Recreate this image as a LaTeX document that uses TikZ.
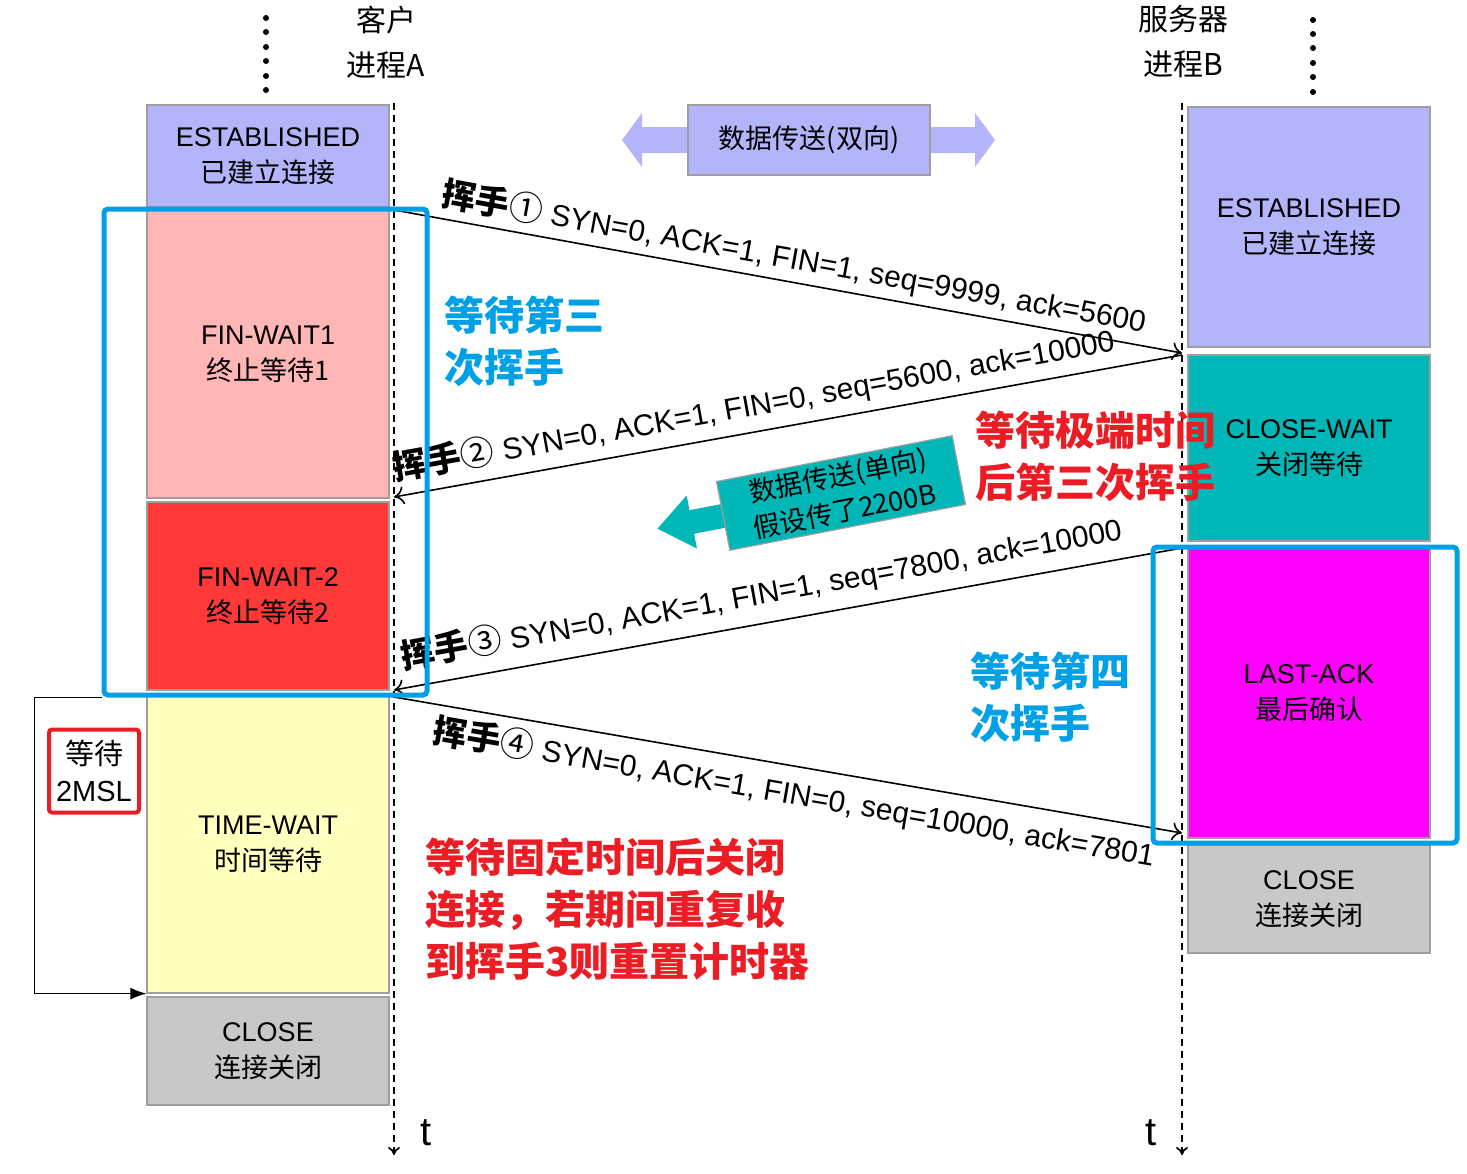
\documentclass[tikz,border=0pt]{standalone}
\usepackage{fontspec}
\setmainfont{Liberation Sans}
\newfontfamily\cjk{Noto Sans CJK SC}
\usetikzlibrary{arrows.meta}
\definecolor{lavender}{RGB}{180,180,250}
\definecolor{pinkst}{RGB}{255,182,182}
\definecolor{redst}{RGB}{255,56,56}
\definecolor{yellowst}{RGB}{255,255,190}
\definecolor{grayst}{RGB}{200,200,200}
\definecolor{tealst}{RGB}{0,182,182}
\definecolor{magentast}{RGB}{255,0,255}
\definecolor{hiblue}{RGB}{0,160,230}
\definecolor{notered}{RGB}{235,28,36}

\begin{document}
\begin{tikzpicture}[x=0.5pt, y=-0.5pt,
  state/.style={draw=gray!75, line width=0.6pt, minimum width=121pt, inner sep=0pt, align=center, font=\fontsize{13.5}{18}\selectfont},
  proc/.style={align=center, font=\fontsize{15}{22.5}\selectfont\cjk},
  timeline/.style={dashed, dash pattern=on 3.5pt off 2.5pt, line width=0.9pt, -{To[length=4pt,width=6pt]}},
  msg/.style={line width=0.8pt},
  msglabel/.style={sloped, inner xsep=0pt, font=\fontsize{15}{17}\selectfont},
  hilite/.style={draw=hiblue, line width=2.5pt, rounded corners=2pt, inner sep=0pt},
  note/.style={align=left, anchor=west, inner sep=0pt, font=\fontsize{20}{26}\selectfont\cjk\bfseries},
  databox/.style={draw=gray!75, line width=0.6pt, align=center, inner sep=0pt, font=\fontsize{13.5}{18}\selectfont\cjk},
]
\useasboundingbox (0,0) rectangle (1467,1173);

\node[proc] (procA) at (386,42) {客户\\进程A};
\node[proc] (procB) at (1183,42) {服务器\\进程B};
\foreach \y in {18,32,47,61,76,90} \fill (266,\y) circle (1.5pt);
\foreach \y in {20,34,48,63,77,92} \fill (1313,\y) circle (1.5pt);

\node[state, fill=lavender, minimum height=51pt] (estA) at (268,156) {ESTABLISHED\\{\cjk 已建立连接}};
\node[state, fill=pinkst, minimum height=144pt] (finwaitA1) at (268,354) {FIN-WAIT1\\{\cjk 终止等待1}};
\node[state, fill=redst, minimum height=94pt] (finwaitA2) at (268,596) {FIN-WAIT-2\\{\cjk 终止等待2}};
\node[state, fill=yellowst, minimum height=149pt] (timewaitA) at (268,844) {TIME-WAIT\\{\cjk 时间等待}};
\node[state, fill=grayst, minimum height=54pt] (closeA) at (268,1051) {CLOSE\\{\cjk 连接关闭}};

\node[state, fill=lavender, minimum height=120pt] (estB) at (1309,227) {ESTABLISHED\\{\cjk 已建立连接}};
\node[state, fill=tealst, minimum height=93pt] (closewaitB) at (1309,448) {CLOSE-WAIT\\{\cjk 关闭等待}};
\node[state, fill=magentast, minimum height=145pt] (lastackB) at (1309,693) {LAST-ACK\\{\cjk 最后确认}};
\node[state, fill=grayst, minimum height=54pt] (closeB) at (1309,899) {CLOSE\\{\cjk 连接关闭}};

\coordinate (topA) at (394,103);
\coordinate (endA) at (394,1155);
\coordinate (topB) at (1182,103);
\coordinate (endB) at (1182,1155);
\draw[timeline] (topA) -- (endA);
\draw[timeline] (topB) -- (endB);
\node[font=\fontsize{20}{20}\selectfont] (tA) at (426,1133) {t};
\node[font=\fontsize{20}{20}\selectfont] (tB) at (1151,1133) {t};

\coordinate (a1) at (394,210);
\coordinate (b1) at (1182,353);
\coordinate (b2) at (1182,355);
\coordinate (a2) at (394,497);
\coordinate (b3) at (1182,548);
\coordinate (a3) at (394,690);
\coordinate (a4) at (394,697);
\coordinate (b4) at (1182,833);

\draw[msg, -{To[length=5pt,width=9pt]}] (a1) -- (b1)
  node[msglabel, pos=0.055, anchor=south west, inner ysep=3pt] {{\fontsize{17}{17}\selectfont\cjk{\bfseries 挥手}①} SYN=0, ACK=1, FIN=1, seq=9999, ack=5600};
\draw[msg, {To[length=5pt,width=9pt]}-] (a2) -- (b2)
  node[msglabel, pos=0.005, anchor=south west, inner ysep=4.5pt] {{\fontsize{17}{17}\selectfont\cjk{\bfseries 挥手}②} SYN=0, ACK=1, FIN=0, seq=5600, ack=10000};
\draw[msg, {To[length=5pt,width=9pt]}-] (a3) -- (b3)
  node[msglabel, pos=0.015, anchor=south west, inner ysep=6pt] {{\fontsize{17}{17}\selectfont\cjk{\bfseries 挥手}③} SYN=0, ACK=1, FIN=1, seq=7800, ack=10000};
\draw[msg, -{To[length=5pt,width=9pt]}] (a4) -- (b4)
  node[msglabel, pos=0.055, anchor=north west, inner ysep=4pt] {{\fontsize{17}{17}\selectfont\cjk{\bfseries 挥手}④} SYN=0, ACK=1, FIN=0, seq=10000, ack=7801};

\fill[lavender] (622,140) -- (642,113) -- (642,127) -- (975,127) -- (975,113) -- (995,140) -- (975,167) -- (975,153) -- (642,153) -- (642,167) -- cycle;
\node[databox, fill=lavender, minimum width=121pt, minimum height=35pt] (dataAB) at (809,140) {数据传送(双向)};

\begin{scope}[shift={(841,493)}, rotate=11]
\fill[tealst] (-120,-12) -- (-152,-12) -- (-152,-27) -- (-187,0) -- (-152,27) -- (-152,12) -- (-120,12) -- cycle;
\end{scope}
\node[databox, fill=tealst, rotate=11, minimum width=120pt, minimum height=35pt] (dataBA) at (841,493) {数据传送(单向)\\假设传了2200B};

\node[hilite, minimum width=161.5pt, minimum height=243pt] (waitA) at (265.5,452) {};
\node[hilite, minimum width=152pt, minimum height=148pt] (waitB) at (1305,695) {};

\node[note, text=hiblue] (thirdNote) at (444,341) {等待第三\\次挥手};
\node[note, text=hiblue] (fourthNote) at (970,697) {等待第四\\次挥手};
\node[note, text=notered] (extremeNote) at (975,456) {等待极端时间\\后第三次挥手};
\node[note, text=notered] (fixedNote) at (425,909) {等待固定时间后关闭\\连接，若期间重复收\\到挥手3则重置计时器};

\node[draw=notered, line width=2pt, rounded corners=1.5pt, minimum width=45pt, minimum height=41.5pt, align=center, inner sep=0pt, font=\fontsize{14.5}{18.5}\selectfont] (msl) at (94,771) {{\cjk 等待}\\2MSL};
\draw[line width=0.7pt, -{Latex[length=8pt,width=6pt]}] (waitA.south west) -- ++(-67,0) |- (timewaitA.south west);
\end{tikzpicture}
\end{document}
